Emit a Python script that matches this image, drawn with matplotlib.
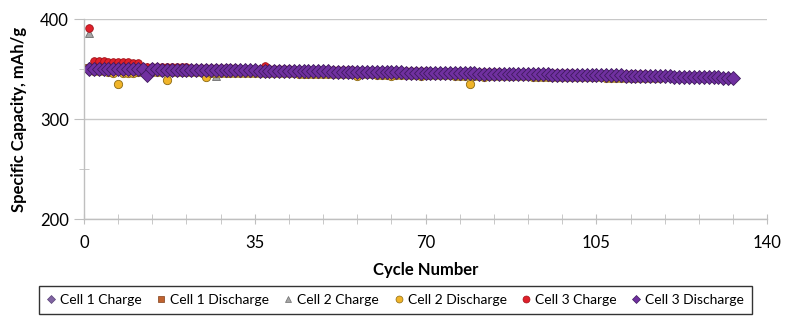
import numpy as np
import matplotlib
matplotlib.use("Agg")
import matplotlib.pyplot as plt
from matplotlib.lines import Line2D
from matplotlib.ticker import MultipleLocator, FixedLocator

plt.rcParams["font.family"] = ["Lato", "DejaVu Sans"]

# specific capacity (mAh/g) per cycle, starting at cycle 1
cell1_charge = [
    352.0, 351.8, 351.7, 351.6, 351.5, 351.4, 351.4, 351.3, 351.2, 351.2, 351.1, 351.0,
    350.9, 350.9, 350.8, 350.7, 350.7, 350.6, 350.5, 350.5, 350.4, 350.3, 350.3, 350.2,
    350.1, 350.1, 350.0, 349.9, 349.9, 349.8, 349.7, 349.7, 349.6, 349.5, 349.5, 349.4,
    349.3, 349.3, 349.2, 349.1, 349.1, 349.0, 348.9, 348.9, 348.8, 348.7, 348.7, 348.6,
    348.5, 348.5, 348.4, 348.3, 348.3, 348.2, 348.1, 348.1, 348.0, 347.9, 347.9, 347.8,
    347.7, 347.7, 347.6, 347.5, 347.5, 347.4, 347.3, 347.3, 347.2, 347.1, 347.1, 347.0,
    346.9, 346.9, 346.8, 346.7, 346.7, 346.6, 346.5, 346.5, 346.4, 346.3, 346.3, 346.2,
    346.1, 346.1, 346.0, 345.9, 345.9, 345.8, 345.7, 345.7, 345.6, 345.5, 345.5, 345.4,
    345.3, 345.3, 345.2, 345.1, 345.1, 345.0, 344.9, 344.9, 344.8, 344.7, 344.7, 344.6,
    344.5, 344.5, 344.4, 344.3, 344.3, 344.2, 344.1, 344.1, 344.0, 343.9,
]
cell1_discharge = [
    351.5, 351.2, 351.1, 351.0, 350.9, 350.8, 350.8, 350.7, 350.6, 350.6, 350.5, 350.4,
    350.3, 350.3, 350.2, 350.1, 350.1, 350.0, 349.9, 349.9, 349.8, 349.7, 349.7, 349.6,
    349.5, 349.5, 349.4, 349.3, 349.3, 349.2, 349.1, 349.1, 349.0, 348.9, 348.9, 348.8,
    348.7, 348.7, 348.6, 348.5, 348.5, 348.4, 348.3, 348.3, 348.2, 348.1, 348.1, 348.0,
    347.9, 347.9, 347.8, 347.7, 347.7, 347.6, 347.5, 347.5, 347.4, 347.3, 347.3, 347.2,
    347.1, 347.1, 347.0, 346.9, 346.9, 346.8, 346.7, 346.7, 346.6, 346.5, 346.5, 346.4,
    346.3, 346.3, 346.2, 346.1, 346.1, 346.0, 345.9, 345.9, 345.8, 345.7, 345.7, 345.6,
    345.5, 345.5, 345.4, 345.3, 345.3, 345.2, 345.1, 345.1, 345.0, 344.9, 344.9, 344.8,
    344.7, 344.7, 344.6, 344.5, 344.5, 344.4, 344.3, 344.3, 344.2, 344.1, 344.1, 344.0,
    343.9, 343.9, 343.8, 343.7, 343.7, 343.6, 343.5, 343.5, 343.4, 343.3,
]
cell2_charge = [
    386.0, 351.5, 351.3, 351.2, 351.1, 351.0, 350.9, 350.8, 350.8, 350.7, 350.6, 350.5,
    350.5, 350.4, 350.3, 350.3, 350.2, 350.1, 350.0, 350.0, 349.9, 349.8, 349.8, 349.7,
    349.6, 349.6, 343.5, 349.5, 349.4, 349.3, 349.3, 349.2, 349.1, 349.1, 349.0, 348.9,
    348.9, 348.8, 348.7, 348.7, 348.6, 348.5, 348.5, 348.4, 348.3, 348.3, 348.2, 348.1,
    348.1, 348.0, 347.9, 347.9, 347.8, 347.7, 347.7, 347.6, 347.5, 347.5, 347.4, 347.3,
    347.3, 347.2, 347.1, 347.1, 347.0, 346.9, 346.9, 346.8, 346.7, 346.7, 346.6, 346.5,
    346.5, 346.4, 346.3, 346.3, 346.2, 346.1, 346.1, 346.0, 345.9, 345.9, 345.8, 345.7,
    345.7, 345.6, 345.5, 345.5, 345.4, 345.3, 345.3, 345.2, 345.1, 345.1, 345.0, 344.9,
    344.9, 344.8, 344.7, 344.7, 344.6, 344.5, 344.5, 344.4, 344.3, 344.3, 344.2, 344.1,
    344.1, 344.0, 343.9, 343.9, 343.8, 343.7, 343.7, 343.6, 343.5, 343.5,
]
cell2_discharge = [
    349.0, 348.2, 348.0, 347.8, 346.8, 346.5, 335.0, 346.5, 346.3, 346.5, 347.2, 347.0,
    347.0, 347.2, 347.0, 347.0, 339.0, 347.0, 346.9, 346.8, 346.8, 346.7, 346.7, 346.6,
    342.5, 346.5, 346.5, 346.4, 346.4, 346.3, 346.3, 346.2, 346.2, 346.1, 346.1, 346.0,
    346.0, 345.9, 345.9, 345.8, 345.7, 345.7, 345.6, 345.5, 345.5, 345.4, 345.3, 345.3,
    345.2, 345.1, 345.1, 345.0, 344.9, 344.9, 344.8, 343.0, 344.7, 344.6, 344.6, 344.5,
    344.4, 344.4, 343.0, 344.3, 344.2, 344.2, 344.1, 344.0, 343.0, 343.9, 343.9, 343.8,
    343.7, 343.7, 343.6, 343.5, 343.5, 343.4, 335.5, 343.3, 343.2, 342.5, 343.1, 343.1,
    343.0, 342.9, 342.9, 342.8, 342.7, 342.7, 342.6, 342.5, 342.5, 342.4, 342.3, 342.3,
    342.2, 342.1, 342.1, 342.0, 341.9, 341.9, 341.8, 341.7, 341.7, 341.6, 341.5, 341.5,
    341.4, 341.3, 341.3, 341.2, 341.1, 341.1, 341.0, 340.9, 340.9, 340.8,
]
cell3_charge = [
    391.0, 358.0, 357.8, 357.6, 357.4, 357.2, 357.0, 356.8, 356.6, 356.4, 356.2, 352.5,
    352.5, 352.3, 352.2, 352.1, 352.0, 351.9, 351.8, 351.7, 351.6, 351.5, 351.4, 351.3,
    351.2, 351.1, 351.0, 350.9, 350.8, 350.7, 350.6, 350.5, 350.4, 350.3, 350.2, 350.1,
    353.0, 350.0, 349.9, 349.8, 349.7, 349.6, 349.5, 349.4, 349.3, 349.2, 349.1, 349.0,
    349.0, 348.9, 348.8, 348.8, 348.7, 348.6, 348.6, 348.5, 348.4, 348.4, 348.3, 348.2,
    348.2, 348.1, 348.0, 348.0, 347.9, 347.8, 347.8, 347.7, 347.6, 347.6, 347.5, 347.4,
    347.4, 347.3, 347.2, 347.2, 347.1, 347.0, 347.0, 346.9, 346.8, 346.8, 346.7, 346.6,
    346.6, 346.5, 346.4, 346.4, 346.3, 346.2, 346.2, 346.1, 346.0, 346.0, 345.9, 345.8,
    345.8, 345.7, 345.6, 345.6, 345.5, 345.4, 345.4, 345.3, 345.2, 345.2, 345.1, 345.0,
    345.0, 344.9, 344.8, 344.8, 344.7, 344.6, 344.6, 344.5, 344.4, 344.4,
]
cell3_discharge = [
    350.5, 350.3, 350.2, 350.2, 350.1, 350.0, 350.0, 349.9, 349.9, 349.8, 349.8, 349.7,
    344.0,
    349.6, 349.6, 349.5, 349.5, 349.4, 349.4, 349.3, 349.3, 349.2, 349.2, 349.1, 349.1,
    349.0, 349.0, 348.9, 348.9, 348.8, 348.8, 348.7, 348.7, 348.6, 348.6, 348.5, 348.5,
    348.4, 348.3, 348.3, 348.2, 348.1, 348.1, 348.0, 347.9, 347.9, 347.8, 347.7, 347.7,
    347.6, 347.5, 347.5, 347.4, 347.3, 347.3, 347.2, 347.1, 347.1, 347.0, 346.9, 346.9,
    346.8, 346.7, 346.7, 346.6, 346.5, 346.5, 346.4, 346.3, 346.3, 346.2, 346.1, 346.1,
    346.0, 345.9, 345.9, 345.8, 345.7, 345.7, 345.6, 345.5, 345.5, 345.4, 345.3, 345.3,
    345.2, 345.1, 345.1, 345.0, 344.9, 344.9, 344.8, 344.7, 344.7, 344.6, 344.5, 344.5,
    344.4, 344.3, 344.3, 344.2, 344.1, 344.1, 344.0, 343.9, 343.9, 343.8, 343.7, 343.7,
    343.6, 343.5, 343.4, 343.3, 343.2, 343.1, 343.0, 342.9, 342.8, 342.7, 342.6, 342.5,
    342.4, 342.3, 342.2, 342.1, 342.0, 341.9, 341.8, 341.7, 341.6, 341.5, 341.4, 341.3,
]

# (label, values, marker, size, face, edge)
series = [
    ("Cell 1 Charge", cell1_charge, "D", 5.5, "#8064A2", "#5B4478"),
    ("Cell 1 Discharge", cell1_discharge, "s", 5.5, "#C0622F", "#7F3F1A"),
    ("Cell 2 Charge", cell2_charge, "^", 5.5, "#A5A5A5", "#6E6E6E"),
    ("Cell 2 Discharge", cell2_discharge, "o", 6.0, "#F0B429", "#8C6A14"),
    ("Cell 3 Charge", cell3_charge, "o", 5.5, "#E0202A", "#A01018"),
    ("Cell 3 Discharge", cell3_discharge, "D", 7.0, "#7030A0", "#3F1A5E"),
]

fig = plt.figure(figsize=(8, 3.28), dpi=100)
ax = fig.add_axes([0.105, 0.332, 0.854, 0.61])

handles = []
for label, vals, mk, ms, fc, ec in series:
    cyc = np.arange(1, len(vals) + 1)
    ax.plot(cyc, vals, linestyle="none", marker=mk, markersize=ms,
            markerfacecolor=fc, markeredgecolor=ec, markeredgewidth=0.6)
    # small uniform markers for the legend, like the Excel original
    handles.append(Line2D([], [], linestyle="none", marker=mk,
                          markersize=4.0 if mk == "D" else 5.0,
                          markerfacecolor=fc, markeredgecolor=ec,
                          markeredgewidth=0.5, label=label))

ax.set_xlim(0, 140)
ax.set_ylim(200, 400)
ax.xaxis.set_major_locator(MultipleLocator(35))
ax.xaxis.set_minor_locator(MultipleLocator(7))
ax.yaxis.set_major_locator(MultipleLocator(100))
ax.yaxis.set_minor_locator(FixedLocator([250, 350]))

for s in ["top", "right"]:
    ax.spines[s].set_visible(False)
for s in ["left", "bottom"]:
    ax.spines[s].set_color("#BFBFBF")
    ax.spines[s].set_linewidth(1.0)

ax.grid(axis="y", which="major", color="#C8C8C8", linewidth=1.0)
ax.set_axisbelow(True)

ax.tick_params(axis="x", which="both", direction="inout", length=7,
               color="#BFBFBF", labelsize=12, pad=8)
ax.tick_params(axis="y", which="major", direction="out", length=7,
               color="#BFBFBF", labelsize=12, pad=4)
ax.tick_params(axis="y", which="minor", direction="inout", length=7,
               color="#BFBFBF")

ax.set_xlabel("Cycle Number", fontsize=12, fontweight="bold", labelpad=8)
ax.set_ylabel("Specific Capacity, mAh/g", fontsize=12, fontweight="bold",
              labelpad=9)

leg = fig.legend(handles=handles, loc="center", bbox_to_anchor=(0.494, 0.085),
                 ncol=6, frameon=True, fancybox=False, fontsize=10,
                 handlelength=0.6, handletextpad=0.35, columnspacing=1.1,
                 borderpad=0.55)
leg.get_frame().set_edgecolor("black")
leg.get_frame().set_linewidth(1.0)

fig.savefig("out.png", dpi=100)
